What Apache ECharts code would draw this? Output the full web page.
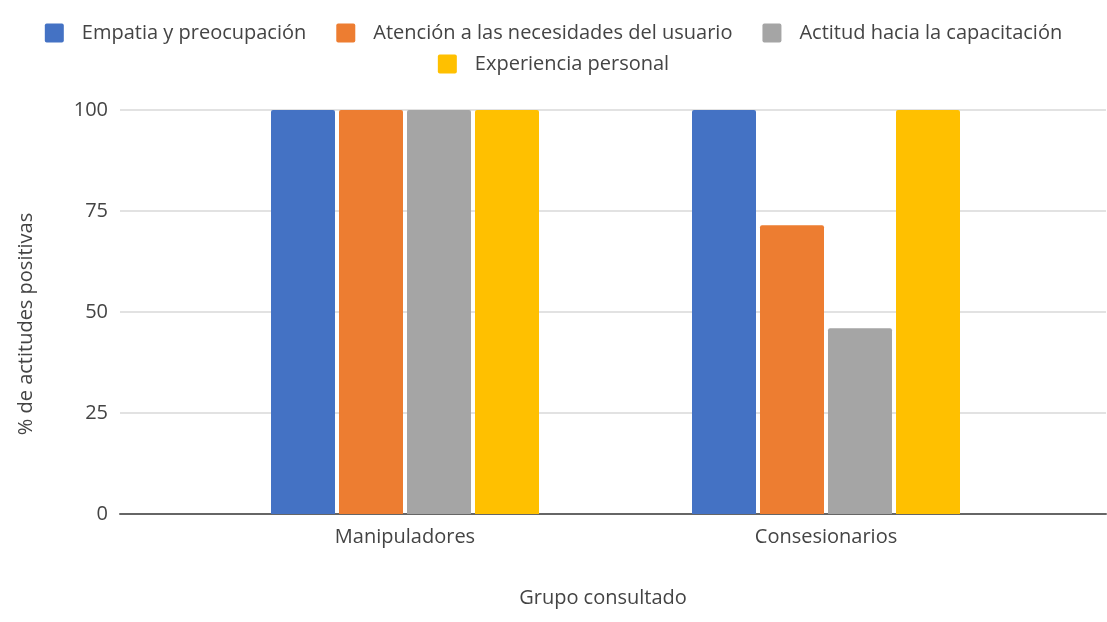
<!DOCTYPE html>
<html>
<head>
<meta charset="utf-8">
<script src="https://cdn.jsdelivr.net/npm/echarts@6/dist/echarts.min.js"></script>
<style>
  html, body { margin: 0; padding: 0; background: #fff; }
  #chart { width: 1107px; height: 622px; }
</style>
</head>
<body>
<div id="chart"></div>
<script>
// Categories and series values (% of positive attitudes)
const categories = ['Manipuladores', 'Consesionarios'];
const seriesNames = [
  'Empatia y preocupación',
  'Atención a las necesidades del usuario',
  'Actitud hacia la capacitación',
  'Experiencia personal'
];
const empatia = [100, 100];
const atencion = [100, 71.5];
const actitud = [100, 46];
const experiencia = [100, 100];
const yTicks = [0, 25, 50, 75, 100];

const colors = ['#4472c4', '#ed7d31', '#a5a5a5', '#ffc000'];
const seriesData = [empatia, atencion, actitud, experiencia];
const FONT = 'Open Sans';
const FS = 20;
const TEXT = '#444444';
// small square swatch with slightly softened corners
const SWATCH = 'path://M1,0H9Q10,0 10,1V9Q10,10 9,10H1Q0,10 0,9V1Q0,0 1,0Z';

const chart = echarts.init(document.getElementById('chart'), null, { renderer: 'canvas' });

const legendCommon = {
  orient: 'horizontal',
  left: 'center',
  icon: SWATCH,
  itemWidth: 19,
  itemHeight: 20,
  itemGap: 30,
  selectedMode: false,
  textStyle: { fontFamily: FONT, fontSize: FS, color: TEXT, padding: [0, 0, 0, 13] }
};

chart.setOption({
  animation: false,
  color: colors,
  legend: [
    Object.assign({}, legendCommon, { top: 18, data: seriesNames.slice(0, 3) }),
    Object.assign({}, legendCommon, { top: 49, data: seriesNames.slice(3) })
  ],
  grid: [
    // full-width plotting frame: gridlines, baseline and axis titles
    { left: 120, right: 1, top: 110, bottom: 108 },
    // band holding the bar groups
    { left: 194.5, right: 70.5, top: 110, bottom: 108 }
  ],
  xAxis: [
    {
      gridIndex: 0,
      type: 'value',
      min: 0,
      max: 1,
      axisLine: { show: true, onZero: false, lineStyle: { color: '#666666', width: 2 } },
      axisTick: { show: false },
      axisLabel: { show: false },
      splitLine: { show: false },
      name: 'Grupo consultado',
      nameLocation: 'middle',
      nameGap: 74,
      nameTextStyle: { fontFamily: FONT, fontSize: FS, color: TEXT, padding: [0, 20, 0, 0] }
    },
    {
      gridIndex: 1,
      type: 'category',
      data: categories,
      axisLine: { show: false },
      axisTick: { show: false },
      axisLabel: { fontFamily: FONT, fontSize: FS, color: TEXT, margin: 13 }
    }
  ],
  yAxis: [
    {
      gridIndex: 0,
      type: 'value',
      min: yTicks[0],
      max: yTicks[yTicks.length - 1],
      interval: 25,
      axisLine: { show: false },
      axisTick: { show: false },
      axisLabel: { fontFamily: FONT, fontSize: FS, color: TEXT, margin: 12 },
      splitLine: { lineStyle: { color: '#d9d9d9', width: 1.5 } },
      name: '% de actitudes positivas',
      nameLocation: 'middle',
      nameGap: 84,
      nameTextStyle: { fontFamily: FONT, fontSize: FS, color: TEXT, padding: [0, 24, 0, 0] }
    },
    {
      gridIndex: 1,
      type: 'value',
      min: 0,
      max: 100,
      show: false,
      splitLine: { show: false }
    }
  ],
  series: seriesNames.map((name, i) => ({
    name: name,
    type: 'bar',
    xAxisIndex: 1,
    yAxisIndex: 1,
    data: seriesData[i],
    barWidth: 64,
    barGap: '6.25%',
    itemStyle: { color: colors[i], borderRadius: [2, 2, 0, 0] }
  }))
});
</script>
</body>
</html>
